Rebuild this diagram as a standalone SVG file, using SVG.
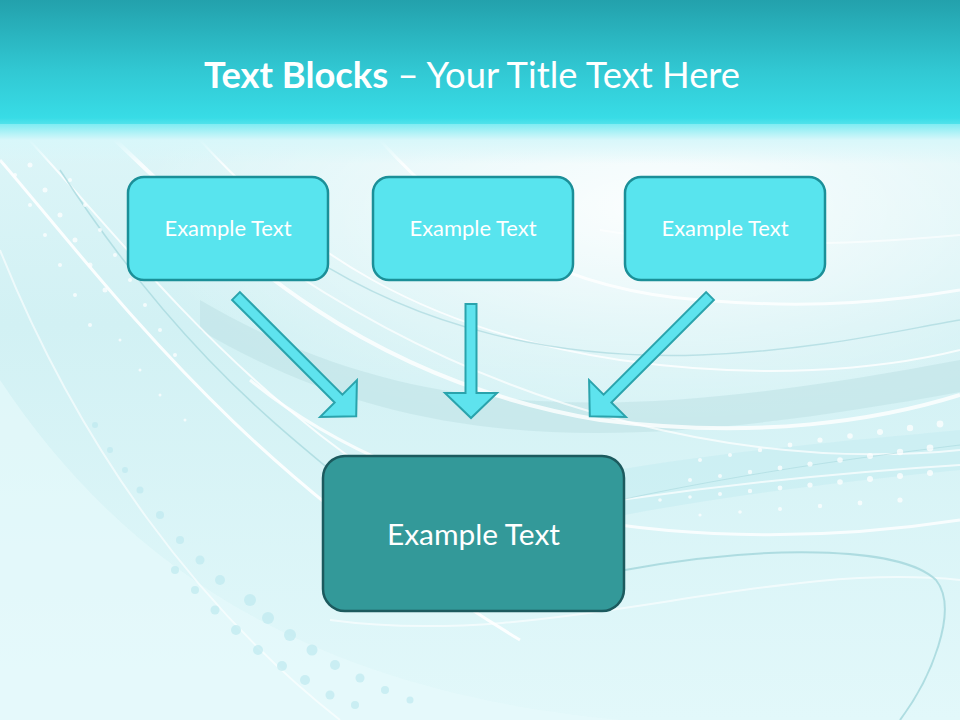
<svg xmlns="http://www.w3.org/2000/svg" width="960" height="720" viewBox="0 0 960 720">
  <defs>
    <linearGradient id="bg" x1="0" y1="0" x2="0" y2="1">
      <stop offset="0" stop-color="#e4f8fa"/>
      <stop offset="0.45" stop-color="#d2f1f4"/>
      <stop offset="1" stop-color="#e2f8fa"/>
    </linearGradient>
    <linearGradient id="hdr" x1="0" y1="0" x2="0" y2="1">
      <stop offset="0" stop-color="#23a1ac"/>
      <stop offset="0.55" stop-color="#31c8d3"/>
      <stop offset="0.92" stop-color="#38dce6"/>
      <stop offset="1" stop-color="#5fe6ee"/>
    </linearGradient>
    <linearGradient id="glow" x1="0" y1="0" x2="0" y2="1">
      <stop offset="0" stop-color="#7fecf2"/>
      <stop offset="0.4" stop-color="#d8f7fa"/>
      <stop offset="1" stop-color="#d8f7fa" stop-opacity="0"/>
    </linearGradient>
    <radialGradient id="light" cx="0.68" cy="0.22" r="0.55">
      <stop offset="0" stop-color="#ffffff" stop-opacity="0.9"/>
      <stop offset="1" stop-color="#ffffff" stop-opacity="0"/>
    </radialGradient>
    <style>
      .box { fill: #58e4ee; stroke: #1b8f98; stroke-width: 2.5; }
      .main { fill: #339999; stroke: #1c5a5e; stroke-width: 2.5; }
      .lbl { fill: #ffffff; font-family: Lato, "Open Sans", "Liberation Sans", sans-serif; text-anchor: middle; }
      .arrow { fill: #5ee3ee; stroke: #2aa3ac; stroke-width: 2; stroke-linejoin: miter; }
      .wl { fill: none; stroke: #ffffff; }
      .bl { fill: none; stroke: #a9d9de; }
      .dot { fill: #ffffff; opacity: 0.75; }
      .dotc { fill: #bfeaf0; opacity: 0.7; }
    </style>
  </defs>

  <!-- background -->
  <rect x="0" y="0" width="960" height="720" fill="url(#bg)"/>
  <rect x="0" y="120" width="960" height="400" fill="url(#light)"/>

  <!-- sweeping bands -->
  <path d="M200 300 C 420 430, 640 420, 960 360 L960 392 C 640 450, 420 460, 200 330 Z" fill="#bfe2e6" opacity="0.6"/>
  <path d="M560 480 C 720 450, 860 440, 960 430 L960 470 C 860 480, 720 495, 600 520 Z" fill="#c6ecf1" opacity="0.6"/>
  <path d="M0 380 C 120 560, 300 690, 620 720 L0 720 Z" fill="#e8fafc" opacity="0.6"/>

  <path class="wl" stroke-width="3" opacity="0.9" d="M0 160 C 120 300, 240 470, 520 640"/>
  <path class="wl" stroke-width="2" opacity="0.8" d="M20 130 C 160 280, 280 460, 600 600"/>
  <path class="wl" stroke-width="4" opacity="0.8" d="M110 135 C 230 250, 360 380, 600 420 C 760 440, 880 420, 960 395"/>
  <path class="wl" stroke-width="2" opacity="0.8" d="M200 140 C 300 250, 420 330, 620 360 C 760 380, 880 370, 960 350"/>
  <path class="wl" stroke-width="3" opacity="0.8" d="M380 140 C 460 230, 560 290, 700 300 C 820 310, 900 300, 960 290"/>
  <path class="wl" stroke-width="2" opacity="0.7" d="M260 250 C 500 420, 760 470, 960 450"/>
  <path class="wl" stroke-width="3" opacity="0.8" d="M250 380 C 420 520, 700 560, 960 520"/>
  <path class="wl" stroke-width="2" opacity="0.7" d="M620 500 C 760 480, 880 470, 960 465"/>
  <path class="wl" stroke-width="2" opacity="0.6" d="M330 620 C 550 650, 760 560, 960 580"/>
  <path class="wl" stroke-width="2" opacity="0.6" d="M0 250 C 80 450, 200 610, 340 720"/>
  <path class="wl" stroke-width="2" opacity="0.6" d="M600 230 C 720 250, 850 245, 960 235"/>
  <path class="bl" stroke-width="1.5" opacity="0.8" d="M60 170 C 170 340, 270 420, 330 470"/>
  <path class="bl" stroke-width="1.5" opacity="0.7" d="M300 250 C 420 330, 560 360, 700 355 C 820 350, 900 330, 960 320"/>
  <path class="bl" stroke-width="2" opacity="0.9" d="M625 570 C 760 545, 900 545, 936 580 C 960 610, 930 680, 900 720"/>
  <path class="bl" stroke-width="1" opacity="0.6" d="M620 500 C 760 470, 880 455, 960 445"/>

  <!-- dots -->
  <g class="dot">
    <circle cx="30" cy="165" r="2.5"/><circle cx="45" cy="190" r="2.5"/><circle cx="60" cy="215" r="2.5"/>
    <circle cx="75" cy="240" r="2.5"/><circle cx="90" cy="265" r="2.5"/><circle cx="105" cy="290" r="2.5"/>
    <circle cx="15" cy="175" r="2"/><circle cx="30" cy="205" r="2"/><circle cx="45" cy="235" r="2"/>
    <circle cx="60" cy="265" r="2"/><circle cx="75" cy="295" r="2"/><circle cx="90" cy="325" r="2"/>
    <circle cx="70" cy="180" r="2"/><circle cx="85" cy="205" r="2"/><circle cx="100" cy="230" r="2"/>
    <circle cx="115" cy="255" r="2"/><circle cx="130" cy="280" r="2"/><circle cx="145" cy="305" r="2"/>
    <circle cx="160" cy="330" r="2"/><circle cx="175" cy="355" r="2"/><circle cx="120" cy="340" r="1.5"/>
    <circle cx="140" cy="370" r="1.5"/><circle cx="160" cy="395" r="1.5"/><circle cx="185" cy="420" r="1.5"/>
    <circle cx="700" cy="460" r="2"/><circle cx="730" cy="455" r="2"/><circle cx="760" cy="450" r="2.2"/>
    <circle cx="790" cy="445" r="2.4"/><circle cx="820" cy="440" r="2.6"/><circle cx="850" cy="436" r="2.8"/>
    <circle cx="880" cy="432" r="3"/><circle cx="910" cy="428" r="3.2"/><circle cx="940" cy="424" r="3.4"/>
    <circle cx="690" cy="480" r="2"/><circle cx="720" cy="476" r="2"/><circle cx="750" cy="472" r="2.2"/>
    <circle cx="780" cy="468" r="2.4"/><circle cx="810" cy="464" r="2.6"/><circle cx="840" cy="460" r="2.8"/>
    <circle cx="870" cy="456" r="3"/><circle cx="900" cy="452" r="3.2"/><circle cx="930" cy="448" r="3.4"/>
    <circle cx="660" cy="500" r="1.8"/><circle cx="690" cy="497" r="1.8"/><circle cx="720" cy="494" r="2"/>
    <circle cx="750" cy="491" r="2.2"/><circle cx="780" cy="488" r="2.4"/><circle cx="810" cy="485" r="2.6"/>
    <circle cx="840" cy="482" r="2.8"/><circle cx="870" cy="479" r="3"/><circle cx="900" cy="476" r="3"/>
    <circle cx="930" cy="473" r="3"/>
    <circle cx="700" cy="515" r="1.6"/><circle cx="740" cy="512" r="1.8"/><circle cx="780" cy="509" r="2"/>
    <circle cx="820" cy="506" r="2.2"/><circle cx="860" cy="503" r="2.4"/><circle cx="900" cy="500" r="2.6"/>
  </g>
  <g class="dotc">
    <circle cx="250" cy="600" r="6"/><circle cx="268" cy="618" r="6"/><circle cx="290" cy="635" r="6"/>
    <circle cx="312" cy="650" r="5.5"/><circle cx="236" cy="630" r="5"/><circle cx="258" cy="650" r="5"/>
    <circle cx="282" cy="666" r="5"/><circle cx="305" cy="680" r="5"/><circle cx="220" cy="580" r="5"/>
    <circle cx="200" cy="560" r="4.5"/><circle cx="180" cy="540" r="4"/><circle cx="160" cy="515" r="4"/>
    <circle cx="140" cy="490" r="3.5"/><circle cx="215" cy="610" r="4.5"/><circle cx="195" cy="590" r="4"/>
    <circle cx="175" cy="570" r="4"/><circle cx="335" cy="665" r="5"/><circle cx="360" cy="678" r="4.5"/>
    <circle cx="385" cy="690" r="4"/><circle cx="330" cy="695" r="4.5"/><circle cx="355" cy="705" r="4"/>
    <circle cx="410" cy="700" r="3.5"/>
    <circle cx="110" cy="450" r="3"/><circle cx="95" cy="425" r="3"/><circle cx="125" cy="470" r="3"/>
  </g>

  <!-- header band -->
  <rect x="0" y="0" width="960" height="128" fill="url(#hdr)"/>
  <rect x="0" y="124" width="960" height="40" fill="url(#glow)"/>

  <!-- title -->
  <text x="204" y="88" font-family="Lato, 'Open Sans', 'Liberation Sans', sans-serif" font-size="36" fill="#ffffff" textLength="536" lengthAdjust="spacingAndGlyphs"><tspan font-weight="bold">Text Blocks</tspan> – Your Title Text Here</text>

  <!-- connectors -->
  <g id="connectors">
    <polygon class="arrow" transform="translate(236,296) rotate(-45)" points="-5.5,0 5.5,0 5.5,145 26,145 0,170 -26,145 -5.5,145"/>
    <polygon class="arrow" transform="translate(471,304)" points="-5.5,0 5.5,0 5.5,89 26,89 0,114 -26,89 -5.5,89"/>
    <polygon class="arrow" transform="translate(710,296) rotate(45)" points="-5.5,0 5.5,0 5.5,145 26,145 0,170 -26,145 -5.5,145"/>
  </g>

  <!-- nodes -->
  <g id="node-top-left">
    <rect class="box" x="128" y="177" width="200" height="103" rx="16"/>
    <text class="lbl" x="228" y="236" font-size="21" textLength="127" lengthAdjust="spacingAndGlyphs">Example Text</text>
  </g>
  <g id="node-top-middle">
    <rect class="box" x="373" y="177" width="200" height="103" rx="16"/>
    <text class="lbl" x="473" y="236" font-size="21" textLength="127" lengthAdjust="spacingAndGlyphs">Example Text</text>
  </g>
  <g id="node-top-right">
    <rect class="box" x="625" y="177" width="200" height="103" rx="16"/>
    <text class="lbl" x="725" y="236" font-size="21" textLength="127" lengthAdjust="spacingAndGlyphs">Example Text</text>
  </g>
  <g id="node-bottom">
    <rect class="main" x="323" y="456" width="301" height="155" rx="22"/>
    <text class="lbl" x="473.5" y="545" font-size="29" textLength="173" lengthAdjust="spacingAndGlyphs">Example Text</text>
  </g>
</svg>
